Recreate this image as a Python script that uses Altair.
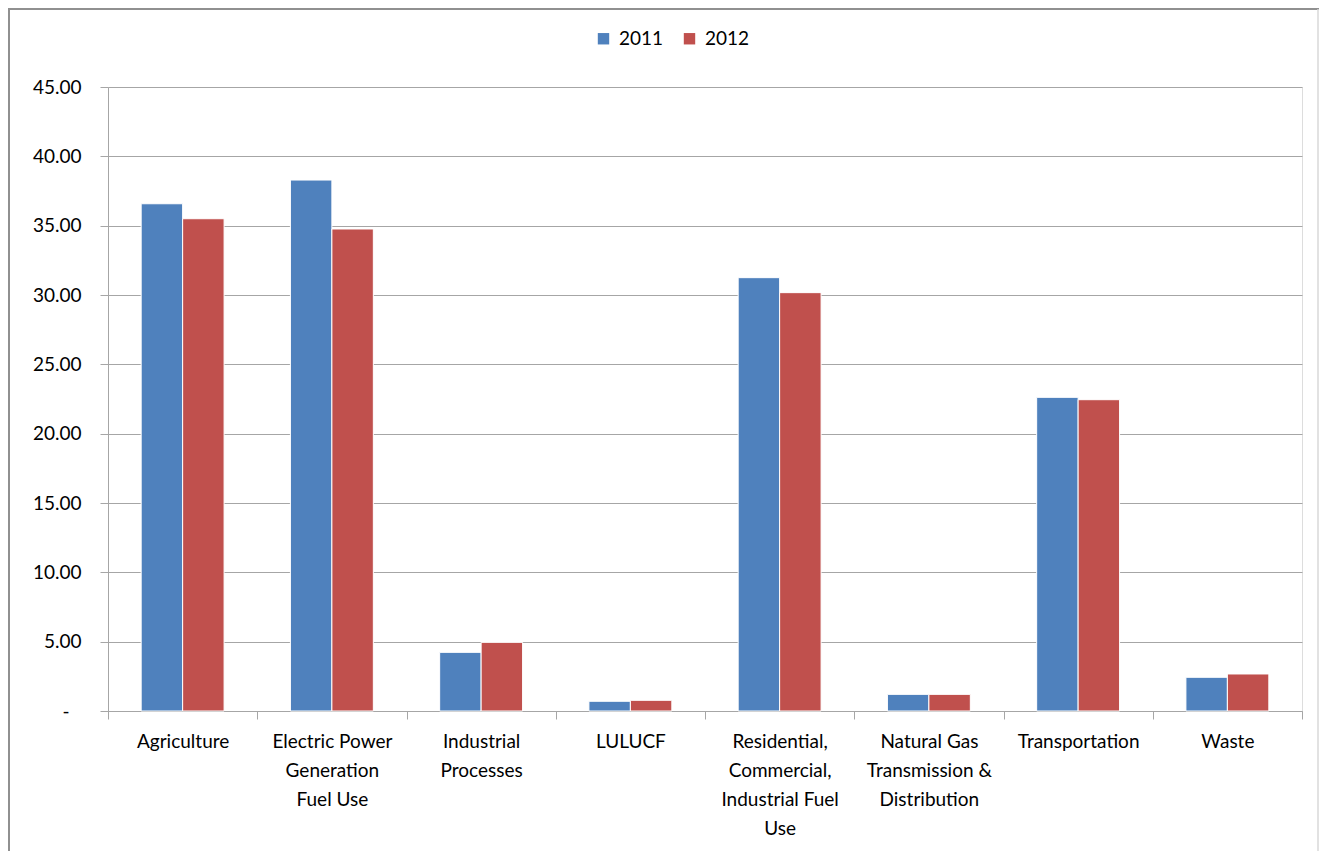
import altair as alt
import pandas as pd

categories = ["Agriculture", "Electric Power Generation Fuel Use", "Industrial Processes",
              "LULUCF", "Residential, Commercial, Industrial Fuel Use",
              "Natural Gas Transmission & Distribution", "Transportation", "Waste"]
label_lines = ["Agriculture", "Electric Power|Generation|Fuel Use", "Industrial|Processes",
               "LULUCF", "Residential,|Commercial,|Industrial Fuel|Use",
               "Natural Gas|Transmission &|Distribution", "Transportation", "Waste"]
years = ["2011", "2012"]
values_2011 = [36.58, 38.29, 4.23, 0.70, 31.25, 1.20, 22.62, 2.43]
values_2012 = [35.50, 34.76, 4.95, 0.77, 30.17, 1.20, 22.45, 2.67]
y_ticks = [0, 5, 10, 15, 20, 25, 30, 35, 40, 45]

rows = []
for c, a, b in zip(categories, values_2011, values_2012):
    rows.append({"category": c, "year": "2011", "value": a})
    rows.append({"category": c, "year": "2012", "value": b})
df = pd.DataFrame(rows)

mapping = "{" + ",".join(f"'{c}': '{l}'" for c, l in zip(categories, label_lines)) + "}"
FONT = "Lato"

bars = alt.Chart(df).mark_bar(stroke="white", strokeWidth=1).encode(
    x=alt.X("category:N", sort=categories, title=None,
            scale=alt.Scale(paddingInner=0, paddingOuter=0),
            axis=alt.Axis(labelAngle=0, tickBand="extent", tickSize=8, tickColor="#a6a6a6",
                          domainColor="#a6a6a6", labelFont=FONT, labelFontSize=19,
                          labelColor="#000000", labelPadding=13, labelLineHeight=29,
                          labelBaseline="top",
                          labelExpr=f"isValid({mapping}[datum.label]) ? split({mapping}[datum.label], '|') : ''")),
    xOffset=alt.XOffset("year:N", sort=years,
                        scale=alt.Scale(paddingInner=0.0, paddingOuter=0.8)),
    y=alt.Y("value:Q", title=None,
            scale=alt.Scale(domain=[0, 45], nice=False),
            axis=alt.Axis(values=y_ticks, tickSize=8, tickColor="#a6a6a6", domainColor="#a6a6a6",
                          gridColor="#a6a6a6", gridWidth=1, labelFont=FONT, labelFontSize=19,
                          labelColor="#000000",
                          labelPadding={"condition": {"test": "datum.value == 0", "value": 31}, "value": 19},
                          labelExpr="datum.value == 0 ? '-' : format(datum.value, '.2f')")),
    color=alt.Color("year:N", sort=years,
                    scale=alt.Scale(domain=years, range=["#4F81BD", "#C0504D"]),
                    legend=alt.Legend(title=None, orient="none", legendX=486, legendY=-58,
                                      direction="horizontal", symbolType="square", symbolSize=130,
                                      symbolStrokeWidth=0, labelFont=FONT, labelFontSize=19,
                                      labelColor="#000000", columnPadding=16, labelOffset=6)),
)

one = pd.DataFrame({"k": [0]})
left_edge = alt.Chart(one).mark_rule(stroke="#909090", strokeWidth=2).encode(
    x=alt.value(-99), y=alt.value(-78), y2=alt.value(800))
top_edge = alt.Chart(one).mark_rule(stroke="#909090", strokeWidth=2).encode(
    x=alt.value(-100), x2=alt.value(1211), y=alt.value(-78))
right_edge = alt.Chart(one).mark_rule(stroke="#d9d9d9", strokeWidth=1.5).encode(
    x=alt.value(1210), y=alt.value(-78), y2=alt.value(800))

chart = alt.layer(left_edge, top_edge, right_edge, bars).properties(
    width=1194, height=624,
    autosize=alt.AutoSizeParams(type="none"),
    padding={"left": 100, "top": 79, "right": 18, "bottom": 140},
).configure_view(stroke=None).configure(background="white")

chart.save("out.html", embed_options={"renderer": "svg", "actions": False})
